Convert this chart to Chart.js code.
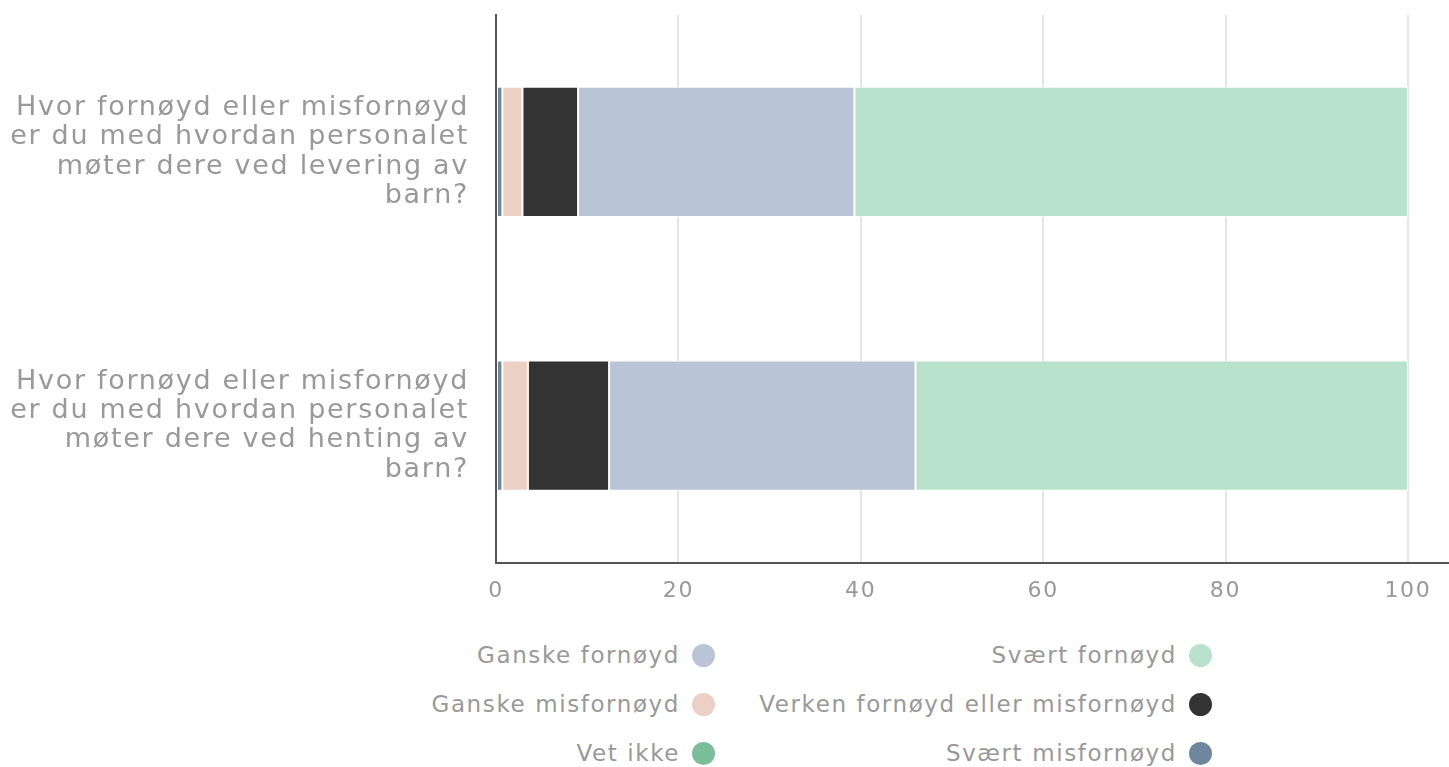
<!DOCTYPE html>
<html>
<head>
<meta charset="utf-8">
<script src="https://cdn.jsdelivr.net/npm/chart.js@4"></script>
<style>
  html, body { margin: 0; padding: 0; background: #fff; overflow: hidden; font-family: "DejaVu Sans", sans-serif; }
  #wrap { position: relative; width: 1449px; height: 767px; }
  #c { position: absolute; left: 0; top: 0; }
  .item { position: absolute; display: flex; align-items: center; justify-content: flex-end;
          color: #999; font-size: 23px; letter-spacing: 1.6px; white-space: nowrap; line-height: 26px; }
  .dot { width: 23px; height: 23px; border-radius: 50%; margin-left: 12px; }
</style>
</head>
<body>
<div id="wrap"><canvas id="c" width="1449" height="619"></canvas></div>
<script>
const categories = [
    ['Hvor fornøyd eller misfornøyd', 'er du med hvordan personalet', 'møter dere ved levering av', 'barn?'],
    ['Hvor fornøyd eller misfornøyd', 'er du med hvordan personalet', 'møter dere ved henting av', 'barn?']
];
const svaertMisfornoyd = [0.7, 0.7];
const vetIkke = [0, 0];
const ganskeMisfornoyd = [2.2, 2.8];
const verken = [6.1, 8.9];
const ganskeFornoyd = [30.3, 33.6];
const svaertFornoyd = [60.7, 54.0];
const xTicks = [0, 20, 40, 60, 80, 100];

const datasets = [
    { label: 'Svært misfornøyd', data: svaertMisfornoyd, backgroundColor: '#6e879e' },
    { label: 'Vet ikke', data: vetIkke, backgroundColor: '#7bbf9a' },
    { label: 'Ganske misfornøyd', data: ganskeMisfornoyd, backgroundColor: '#ecd0c3' },
    { label: 'Verken fornøyd eller misfornøyd', data: verken, backgroundColor: '#333333' },
    { label: 'Ganske fornøyd', data: ganskeFornoyd, backgroundColor: '#b9c5d7' },
    { label: 'Svært fornøyd', data: svaertFornoyd, backgroundColor: '#b9e2cd' }
].map(d => Object.assign(d, { borderColor: '#fff', borderWidth: 1, borderSkipped: false,
                               barPercentage: 1, categoryPercentage: 0.476 }));

// letter spacing for all canvas text, set before measuring and drawing
const spacing = {
    id: 'spacing',
    beforeInit(chart) { chart.ctx.letterSpacing = '1.7px'; },
    beforeUpdate(chart) { chart.ctx.letterSpacing = '1.7px'; },
    beforeDraw(chart) { chart.ctx.letterSpacing = '1.7px'; }
};

const ctx = document.getElementById('c').getContext('2d');
const chart = new Chart(ctx, {
    type: 'bar',
    data: { labels: categories, datasets: datasets },
    plugins: [spacing],
    options: {
        indexAxis: 'y',
        responsive: false,
        animation: false,
        layout: { padding: { top: 15, left: 0, right: 0, bottom: 0 } },
        scales: {
            x: {
                stacked: true,
                min: 0,
                max: 104.5,
                afterBuildTicks: axis => { axis.ticks = xTicks.map(v => ({ value: v })); },
                afterFit: axis => { axis.paddingLeft = 0; axis.paddingRight = 0; },
                grid: { color: '#e6e6e6', lineWidth: 2, drawTicks: false },
                border: { color: '#555', width: 2 },
                ticks: { color: '#999', font: { family: 'DejaVu Sans', size: 22 }, padding: 15 }
            },
            y: {
                stacked: true,
                afterFit: axis => { axis.paddingTop = 0; axis.paddingBottom = 0; axis.width = 496; },
                grid: { display: false, drawTicks: false },
                border: { color: '#555', width: 2 },
                ticks: { color: '#999', font: { family: 'DejaVu Sans', size: 27, lineHeight: 1.09 }, padding: 27 }
            }
        },
        plugins: {
            legend: { display: false },
            tooltip: { enabled: false }
        }
    }
});

// legend laid out like the original: two columns, text then dot
const order = ['Ganske fornøyd', 'Svært fornøyd', 'Ganske misfornøyd',
               'Verken fornøyd eller misfornøyd', 'Vet ikke', 'Svært misfornøyd'];
const wrap = document.getElementById('wrap');
order.forEach((name, i) => {
    const ds = datasets.find(d => d.label === name);
    const el = document.createElement('div');
    el.className = 'item';
    const col = i % 2, row = Math.floor(i / 2);
    el.style.right = (col === 0 ? 1449 - 715 : 1449 - 1212) + 'px';
    el.style.top = (642 + row * 49) + 'px';
    el.innerHTML = '<span>' + name + '</span><span class="dot" style="background:' + ds.backgroundColor + '"></span>';
    wrap.appendChild(el);
});
</script>
</body>
</html>
